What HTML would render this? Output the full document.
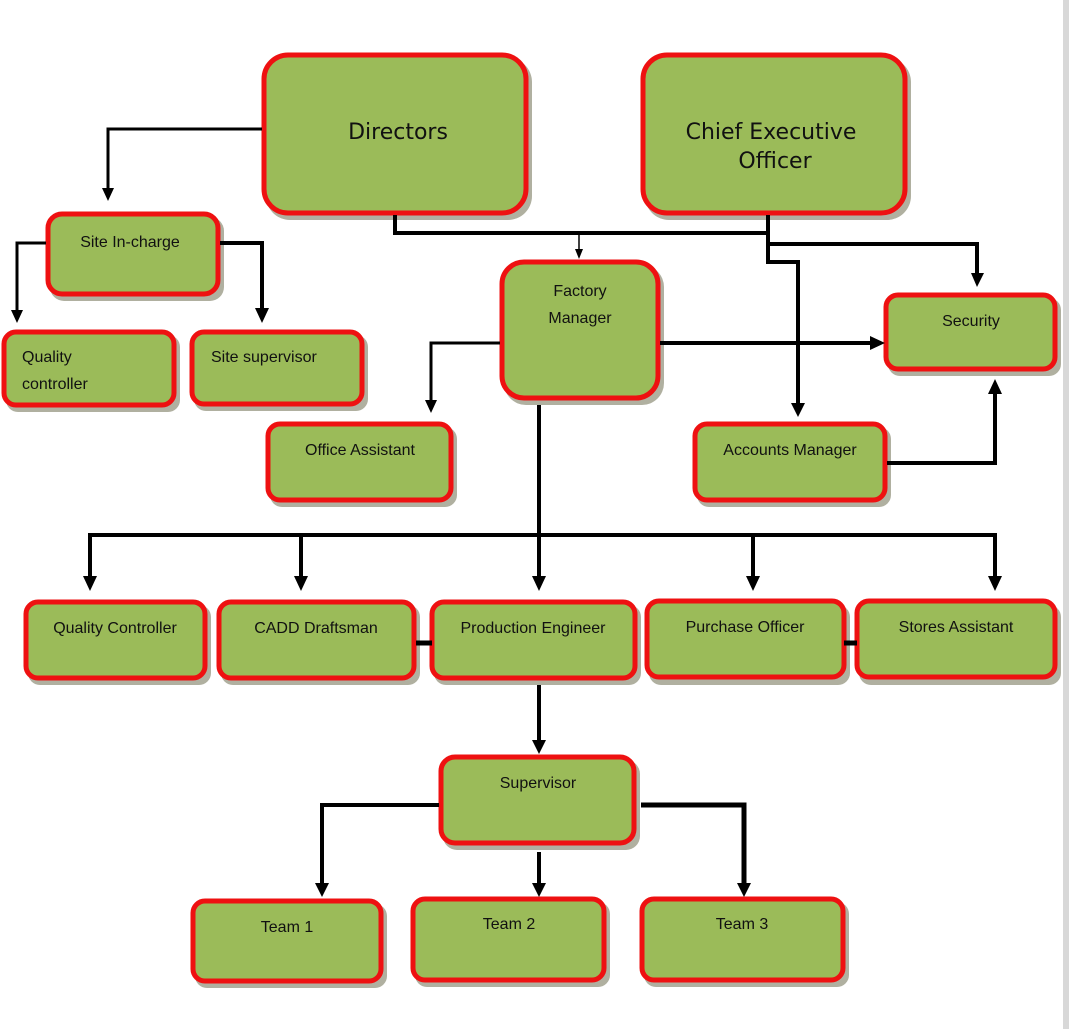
<!DOCTYPE html>
<html><head><meta charset="utf-8"><style>
html,body{margin:0;padding:0;background:#fff;}
svg{display:block;}
text{font-family:"Liberation Sans",sans-serif;fill:#111;}
.b{fill:#9bbb59;stroke:#ee1111;stroke-width:5;}
.s{fill:#b0b0a0;}
.l{fill:none;stroke:#000;stroke-linejoin:miter;}
</style></head><body>
<svg width="1078" height="1029" viewBox="0 0 1078 1029" xmlns="http://www.w3.org/2000/svg">
<rect x="1063" y="0" width="6" height="1029" fill="#d8d8d8"/>
<g id="shadows">
<rect class="s" x="266" y="58" width="266" height="162" rx="24"/>
<rect class="s" x="645" y="58" width="266" height="162" rx="24"/>
<rect class="s" x="50" y="217" width="174" height="84" rx="14"/>
<rect class="s" x="6" y="335" width="174" height="77" rx="12"/>
<rect class="s" x="194" y="335" width="174" height="76" rx="12"/>
<rect class="s" x="504" y="265" width="160" height="140" rx="22"/>
<rect class="s" x="888" y="298" width="173" height="78" rx="12"/>
<rect class="s" x="270" y="427" width="187" height="80" rx="12"/>
<rect class="s" x="697" y="427" width="194" height="80" rx="12"/>
<rect class="s" x="28" y="605" width="183" height="80" rx="12"/>
<rect class="s" x="221" y="605" width="199" height="80" rx="12"/>
<rect class="s" x="434" y="605" width="207" height="80" rx="12"/>
<rect class="s" x="649" y="605" width="201" height="80" rx="12"/>
<rect class="s" x="859" y="605" width="202" height="80" rx="12"/>
<rect class="s" x="443" y="760" width="197" height="90" rx="14"/>
<rect class="s" x="195" y="904" width="192" height="84" rx="12"/>
<rect class="s" x="415" y="902" width="195" height="85" rx="12"/>
<rect class="s" x="644" y="902" width="205" height="85" rx="12"/>
</g>
<g>
<rect class="b" x="264" y="55" width="262" height="158" rx="24"/>
<rect class="b" x="643" y="55" width="262" height="158" rx="24"/>
<rect class="b" x="48" y="214" width="170" height="80" rx="14"/>
<rect class="b" x="4" y="332" width="170" height="73" rx="12"/>
<rect class="b" x="192" y="332" width="170" height="72" rx="12"/>
<rect class="b" x="502" y="262" width="156" height="136" rx="22"/>
<rect class="b" x="886" y="295" width="169" height="74" rx="12"/>
<rect class="b" x="268" y="424" width="183" height="76" rx="12"/>
<rect class="b" x="695" y="424" width="190" height="76" rx="12"/>
<rect class="b" x="26" y="602" width="179" height="76" rx="12"/>
<rect class="b" x="219" y="602" width="195" height="76" rx="12"/>
<rect class="b" x="432" y="602" width="203" height="76" rx="12"/>
<rect class="b" x="647" y="601" width="197" height="76" rx="12"/>
<rect class="b" x="857" y="601" width="198" height="76" rx="12"/>
<rect class="b" x="441" y="757" width="193" height="86" rx="14"/>
<rect class="b" x="193" y="901" width="188" height="80" rx="12"/>
<rect class="b" x="413" y="899" width="191" height="81" rx="12"/>
<rect class="b" x="642" y="899" width="201" height="81" rx="12"/>
</g>
<g>
<path class="l" stroke-width="3" d="M262,129 H108 V190"/>
<path class="l" stroke-width="3" d="M46,243 H17 V312"/>
<path class="l" stroke-width="4" d="M220,243 H262 V310"/>
<path class="l" stroke-width="4" d="M395,215 V233 H768"/>
<path class="l" stroke-width="4" d="M768,215 V262 H798 V405"/>
<path class="l" stroke-width="4" d="M768,244 H977 V275"/>
<path class="l" stroke-width="1.5" d="M579,233 V250"/>
<path class="l" stroke-width="3" d="M500,343 H431 V402"/>
<path class="l" stroke-width="4" d="M660,343 H872"/>
<path class="l" stroke-width="4" d="M887,463 H995 V392"/>
<path class="l" stroke-width="4" d="M539,405 V578"/>
<path class="l" stroke-width="4" d="M90,578 V535 H995 V578"/>
<path class="l" stroke-width="4" d="M301,535 V578 M753,535 V578"/>
<path class="l" stroke-width="5" d="M416,643 H432 M844,643 H857"/>
<path class="l" stroke-width="4" d="M539,685 V742"/>
<path class="l" stroke-width="4" d="M439,805 H322 V885"/>
<path class="l" stroke-width="5" d="M641,805 H744 V885"/>
<path class="l" stroke-width="4" d="M539,852 V885"/>
</g>
<g fill="#000">
<polygon points="102,188 114,188 108,201"/>
<polygon points="11,310 23,310 17,323"/>
<polygon points="255,308 269,308 262,323"/>
<polygon points="575,249 583,249 579,259"/>
<polygon points="971,273 984,273 977,287"/>
<polygon points="791,403 805,403 798,417"/>
<polygon points="425,400 437,400 431,413"/>
<polygon points="870,336 870,350 885,343"/>
<polygon points="988,394 1002,394 995,379"/>
<polygon points="83,576 97,576 90,591"/>
<polygon points="294,576 308,576 301,591"/>
<polygon points="532,576 546,576 539,591"/>
<polygon points="746,576 760,576 753,591"/>
<polygon points="988,576 1002,576 995,591"/>
<polygon points="532,740 546,740 539,754"/>
<polygon points="315,883 329,883 322,897"/>
<polygon points="532,883 546,883 539,897"/>
<polygon points="737,883 751,883 744,897"/>
</g>
<g font-size="16">
<text x="398" y="139" text-anchor="middle" font-size="22" style="font-family:'DejaVu Sans',sans-serif">Directors</text>
<text x="771" y="139" text-anchor="middle" font-size="22" style="font-family:'DejaVu Sans',sans-serif">Chief Executive</text>
<text x="775" y="168" text-anchor="middle" font-size="22" style="font-family:'DejaVu Sans',sans-serif">Officer</text>
<text x="130" y="247" text-anchor="middle">Site In-charge</text>
<text x="22" y="362">Quality</text>
<text x="22" y="389">controller</text>
<text x="211" y="362">Site supervisor</text>
<text x="580" y="296" text-anchor="middle">Factory</text>
<text x="580" y="323" text-anchor="middle">Manager</text>
<text x="971" y="326" text-anchor="middle">Security</text>
<text x="360" y="455" text-anchor="middle">Office Assistant</text>
<text x="790" y="455" text-anchor="middle">Accounts Manager</text>
<text x="115" y="633" text-anchor="middle">Quality Controller</text>
<text x="316" y="633" text-anchor="middle">CADD Draftsman</text>
<text x="533" y="633" text-anchor="middle">Production Engineer</text>
<text x="745" y="632" text-anchor="middle">Purchase Officer</text>
<text x="956" y="632" text-anchor="middle">Stores Assistant</text>
<text x="538" y="788" text-anchor="middle">Supervisor</text>
<text x="287" y="932" text-anchor="middle">Team 1</text>
<text x="509" y="929" text-anchor="middle">Team 2</text>
<text x="742" y="929" text-anchor="middle">Team 3</text>
</g>
</svg>
</body></html>
